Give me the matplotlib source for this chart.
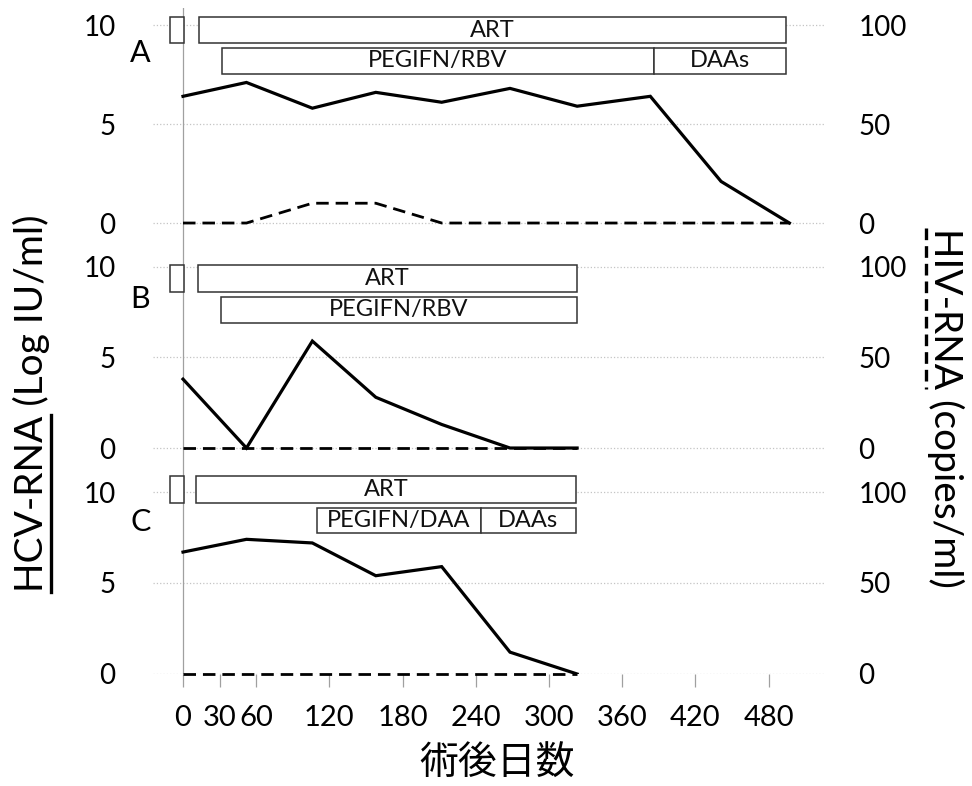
import matplotlib
matplotlib.use('Agg')
import matplotlib.pyplot as plt
from matplotlib.patches import Rectangle
from matplotlib.lines import Line2D

plt.rcParams['font.family'] = ['Lato', 'Noto Sans CJK JP', 'DejaVu Sans']

# --- data (days after surgery) ---
days_a = [0, 52, 106, 158, 212, 268, 323, 383, 441, 497]
hcv_a = [6.4, 7.1, 5.8, 6.6, 6.1, 6.8, 5.9, 6.4, 2.1, 0.0]
hiv_a = [0, 0, 10, 10, 0, 0, 0, 0, 0, 0]

days_bc = [0, 52, 106, 158, 212, 268, 323]
hcv_b = [3.8, 0.0, 5.9, 2.8, 1.3, 0.0, 0.0]
hiv_b = [0, 0, 0, 0, 0, 0, 0]
hcv_c = [6.7, 7.4, 7.2, 5.4, 5.9, 1.2, 0.0]
hiv_c = [0, 0, 0, 0, 0, 0, 0]

# treatment periods: (start, end, label)
pre_art = (-11, 1, '')
art_a = [(13, 494, 'ART')]
art_b = [(12, 323, 'ART')]
art_c = [(11, 322, 'ART')]
rx_a = [(32, 386, 'PEGIFN/RBV'), (386, 494, 'DAAs')]
rx_b = [(31, 323, 'PEGIFN/RBV')]
rx_c = [(110, 244, 'PEGIFN/DAA'), (244, 322, 'DAAs')]

x_ticks = [0, 30, 60, 120, 180, 240, 300, 360, 420, 480]
hcv_ticks = [0, 5, 10]
hiv_ticks = [0, 50, 100]

W, H = 972, 786
fig = plt.figure(figsize=(W / 100, H / 100), dpi=100)

# panel layout: rect, ylim, ART lane, treatment lane, letter y
panels = [
    ('A', [0.1574, 0.6883, 0.6914, 0.3015], (-1.11, 10.86), (9.09, 10.40), (7.53, 8.84), 8.6,
     days_a, hcv_a, hiv_a, art_a, rx_a),
    ('B', [0.1574, 0.4097, 0.6914, 0.2786], (-0.88, 11.20), (8.62, 10.11), (6.91, 8.34), 8.2,
     days_bc, hcv_b, hiv_b, art_b, rx_b),
    ('C', [0.1574, 0.1425, 0.6914, 0.2672], (0.0, 11.54), (9.40, 10.88), (7.75, 9.12), 8.35,
     days_bc, hcv_c, hiv_c, art_c, rx_c),
]

xlim = (-24.6, 526.2)

for name, rect, ylim, art_lane, rx_lane, letter_y, d, hcv, hiv, art, rx in panels:
    ax = fig.add_axes(rect)
    ax.set_xlim(*xlim)
    ax.set_ylim(*ylim)
    for s in ax.spines.values():
        s.set_visible(False)

    for g in hcv_ticks:
        ax.axhline(g, color='#c4c4c4', ls=':', lw=0.9, zorder=0)
    ax.axvline(0, color='#a0a0a0', lw=0.9, zorder=1)

    # treatment boxes
    for lane, items in ((art_lane, [pre_art] + art), (rx_lane, rx)):
        for x0, x1, lab in items:
            ax.add_patch(Rectangle((x0, lane[0]), x1 - x0, lane[1] - lane[0],
                                   facecolor='white', edgecolor='#333333', lw=1.1, zorder=3))
            if lab:
                ax.text((x0 + x1) / 2, sum(lane) / 2, lab, ha='center', va='center',
                        fontsize=17, color='#111111', zorder=4)

    ax.plot(d, hcv, color='black', lw=2.3, zorder=5, solid_joinstyle='miter')
    ax.text(-35, letter_y, name, ha='center', va='center', fontsize=22, clip_on=False)

    ax.set_yticks(hcv_ticks)
    ax.tick_params(axis='y', length=0, pad=27, labelsize=20)

    if name == 'C':
        ax.set_xticks(x_ticks)
        ax.tick_params(axis='x', length=9.5, width=0.9, color='#a0a0a0', pad=13, labelsize=21)
    else:
        ax.set_xticks([])

    ax2 = ax.twinx()
    ax2.set_ylim(ylim[0] * 10, ylim[1] * 10)
    for s in ax2.spines.values():
        s.set_visible(False)
    ax2.plot(d, hiv, color='black', lw=2.0, ls=(0, (4.5, 2.5)), zorder=5, clip_on=False)
    ax2.set_yticks(hiv_ticks)
    ax2.tick_params(axis='y', length=0, pad=24, labelsize=20)

fig.text(497 / W, 1 - 764 / H, '術後日数', ha='center', va='center', fontsize=28)

# axis titles with underline marking the line style
fs_lab = 28
t_left = fig.text(31 / W, 1 - 403 / H, 'HCV-RNA (Log IU/ml)', rotation=90,
                  ha='center', va='center', fontsize=fs_lab)
t_right = fig.text(946 / W, 1 - 408 / H, 'HIV-RNA (copies/ml)', rotation=270,
                   ha='center', va='center', fontsize=fs_lab)

fig.canvas.draw()
r = fig.canvas.get_renderer()

tmp = fig.text(0, 0, 'HCV-RNA', fontsize=fs_lab)
w_hcv = tmp.get_window_extent(r).width
tmp.remove()
tmp = fig.text(0, 0, 'HIV-RNA', fontsize=fs_lab)
w_hiv = tmp.get_window_extent(r).width
tmp.remove()

bb = t_left.get_window_extent(r)
xl = bb.x1 + 1
fig.add_artist(Line2D([xl / W, xl / W], [bb.y0 / H, (bb.y0 + w_hcv) / H],
                      transform=fig.transFigure, color='black', lw=2.4))

bb = t_right.get_window_extent(r)
xr = bb.x0 - 1
fig.add_artist(Line2D([xr / W, xr / W], [bb.y1 / H, (bb.y1 - w_hiv) / H],
                      transform=fig.transFigure, color='black', lw=2.4, ls=(0, (3.5, 1.8))))

fig.savefig('out.png', dpi=100)
